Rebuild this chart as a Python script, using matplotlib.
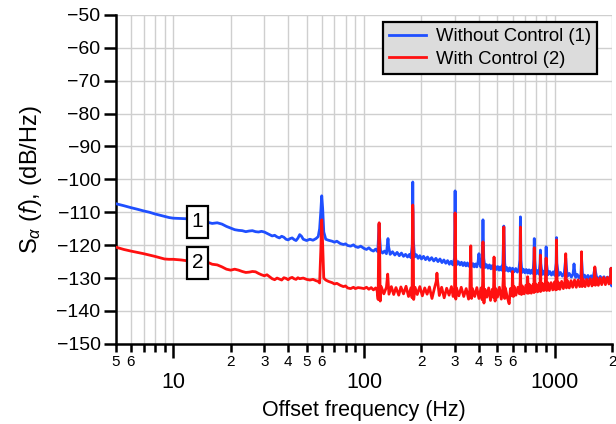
import numpy as np
import matplotlib
matplotlib.use("Agg")
import matplotlib.pyplot as plt
from matplotlib.patches import Rectangle
from matplotlib.ticker import FixedLocator, FuncFormatter

plt.rcParams['font.family'] = ['Liberation Sans', 'DejaVu Sans']
plt.rcParams['mathtext.fontset'] = 'custom'
plt.rcParams['mathtext.rm'] = 'Liberation Sans'
plt.rcParams['mathtext.it'] = 'Liberation Sans:italic'

# phase noise spectra, (frequency Hz, dB/Hz)
blue_pts = [
    (5, -107.4), (5.5, -108.0), (6, -108.6), (6.5, -109.1), (7, -109.6), (7.5, -110.0),
    (8, -110.5), (8.5, -110.9), (9, -111.3), (9.5, -111.6), (10, -111.8), (11, -111.9),
    (12, -112.0), (15, -113.0), (16, -113.4), (17, -113.2), (18, -113.6), (19, -114.3),
    (20, -114.8), (21, -115.3), (22, -115.5), (23, -115.6), (24, -115.9), (25, -115.7),
    (26, -115.6), (27, -115.9), (28, -116.0), (29, -115.8), (30, -116.0), (31, -116.4),
    (32, -116.8), (33, -117.2), (34, -117.0), (35, -117.5), (36, -117.8), (37, -117.3),
    (38, -117.6), (39, -118.2), (40, -118.4), (41, -118.0), (42, -117.8), (43, -118.3),
    (44, -118.6), (45, -117.9), (46, -116.8), (47, -117.3), (48, -118.2), (50, -118.6),
    (52, -118.2), (54, -118.5), (56, -118.0), (57.5, -117.4), (58.5, -115.0), (59.3, -110.0),
    (60, -105.0), (60.7, -109.0), (61.5, -116.0), (63, -118.2), (65, -118.5), (68, -118.8),
    (70, -119.1), (72, -118.8), (75, -119.5), (78, -119.8), (80, -119.6), (82, -120.1),
    (85, -120.3), (88, -119.9), (90, -120.4), (93, -120.7), (96, -120.3), (100, -121.0),
    (103, -121.3), (106, -120.8), (109, -121.5), (112, -121.8), (115, -121.2), (118, -122.0),
    (119.5, -116.0), (120, -113.5), (120.5, -117.0), (122, -121.6), (125, -122.4), (128, -121.8),
    (131, -122.6), (132.5, -120.0), (133.5, -118.0), (134.5, -120.5), (137, -122.8), (141, -122.0),
    (145, -123.0), (149, -122.2), (153, -123.2), (157, -122.4), (161, -123.4), (165, -122.8),
    (169, -123.6), (173, -122.8), (176, -123.8), (179, -120.0), (180, -100.8), (181, -118.0),
    (184, -123.6), (188, -122.9), (192, -124.0), (196, -123.2), (200, -124.2), (205, -123.4),
    (210, -124.4), (215, -123.6), (220, -124.6), (226, -123.8), (232, -124.8), (238, -124.0),
    (244, -125.0), (250, -124.2), (256, -125.3), (262, -124.5), (268, -125.5), (274, -124.7),
    (280, -125.8), (286, -124.9), (292, -126.0), (298, -124.0), (300, -103.5), (302, -124.0),
    (306, -125.9), (312, -125.0), (318, -126.0), (324, -125.2), (330, -126.2), (336, -125.3),
    (342, -126.3), (348, -125.4), (354, -126.4), (360, -125.5), (366, -126.5), (372, -125.6),
    (378, -126.6), (384, -125.7), (390, -126.6), (396, -125.0), (400, -122.6), (404, -125.4),
    (410, -126.7), (416, -124.0), (420, -112.3), (424, -124.0), (430, -126.8), (438, -125.9),
    (446, -127.0), (454, -126.0), (462, -127.2), (470, -126.2), (478, -127.3), (486, -126.4),
    (494, -127.4), (502, -126.5), (510, -127.6), (518, -126.6), (526, -127.6), (534, -125.5),
    (540, -114.2), (546, -125.5), (552, -127.7), (560, -126.8), (570, -127.9), (580, -126.9),
    (590, -128.0), (600, -127.0), (612, -128.1), (624, -127.1), (636, -128.2), (648, -127.2),
    (656, -124.5), (660, -111.4), (664, -124.5), (672, -128.3), (684, -127.3), (696, -128.4),
    (708, -127.4), (720, -128.5), (732, -127.5), (744, -128.6), (756, -127.6), (768, -128.6),
    (776, -124.5), (780, -118.0), (784, -124.5), (796, -128.7), (810, -127.7), (825, -128.8),
    (836, -125.5), (840, -121.5), (844, -125.5), (858, -128.9), (872, -127.9), (886, -129.0),
    (896, -125.5), (900, -120.5), (904, -125.5), (920, -129.0), (940, -128.0), (960, -129.1),
    (980, -128.1), (1000, -129.2), (1016, -125.5), (1020, -117.7), (1024, -125.5), (1045, -129.2),
    (1070, -128.3), (1095, -129.4), (1120, -128.5), (1140, -124.0), (1160, -129.5), (1190, -128.6),
    (1220, -129.7), (1245, -128.8), (1255, -127.0), (1260, -125.7), (1265, -127.0), (1285, -129.8),
    (1310, -128.9), (1340, -130.0), (1370, -129.0), (1380, -124.0), (1400, -130.1), (1430, -129.1),
    (1460, -130.2), (1490, -129.2), (1520, -130.3), (1550, -129.3), (1580, -130.4), (1620, -127.0),
    (1650, -129.4), (1690, -130.5), (1730, -129.5), (1770, -130.6), (1810, -129.6), (1850, -130.7),
    (1890, -129.7), (1930, -130.8), (1960, -130.0), (1970, -127.0), (1985, -132.4), (2000, -132.0),
]

red_pts = [
    (5, -120.6), (5.5, -121.3), (6, -121.8), (6.5, -122.2), (7, -122.6), (7.5, -123.0),
    (8, -123.4), (8.5, -123.8), (9, -124.2), (9.5, -124.3), (10, -124.3), (11, -124.5),
    (12, -124.8), (15, -125.1), (16, -125.8), (17, -126.0), (18, -126.6), (19, -127.3),
    (20, -127.6), (21, -127.3), (22, -127.6), (23, -128.0), (24, -128.3), (25, -128.2),
    (26, -128.0), (27, -128.1), (28, -128.6), (29, -129.0), (30, -129.3), (31, -129.0),
    (32, -129.6), (33, -130.2), (34, -130.5), (35, -130.0), (36, -130.3), (37, -130.6),
    (38, -129.9), (39, -130.1), (40, -130.5), (41, -130.0), (42, -129.8), (43, -130.2),
    (44, -130.4), (45, -129.9), (46, -130.2), (48, -130.0), (50, -130.4), (52, -130.6),
    (54, -130.4), (56, -130.8), (57.5, -131.0), (58.5, -131.5), (59.3, -122.0), (60, -112.3),
    (60.7, -120.0), (61.5, -130.0), (63, -130.6), (65, -131.0), (68, -131.4), (70, -131.8),
    (72, -131.6), (75, -132.2), (78, -132.6), (80, -132.4), (82, -133.0), (85, -133.2),
    (88, -132.8), (90, -133.2), (93, -132.9), (96, -133.0), (100, -133.2), (103, -132.8),
    (106, -133.4), (109, -132.9), (112, -133.6), (115, -133.0), (117, -133.8), (118.5, -136.5),
    (119.5, -114.0), (120, -113.2), (120.5, -116.0), (121.5, -137.0), (123, -132.6), (127, -134.8),
    (131, -132.8), (133, -128.8), (135, -134.9), (139, -132.6), (143, -135.0), (147, -132.9),
    (152, -135.2), (156, -132.7), (161, -134.8), (166, -132.5), (171, -135.6), (176, -133.0),
    (178.5, -136.0), (179.5, -108.0), (180, -107.8), (180.7, -110.0), (182, -136.5), (185, -132.8),
    (190, -135.0), (196, -132.6), (202, -135.4), (208, -133.0), (214, -134.9), (220, -132.7),
    (227, -136.2), (234, -133.0), (239, -131.0), (241, -128.5), (243, -131.0), (248, -135.3),
    (255, -132.8), (263, -136.0), (271, -133.1), (279, -135.2), (287, -132.6), (293, -135.6),
    (298, -134.0), (299.5, -112.0), (300, -110.2), (301, -115.0), (302.5, -136.4), (305, -133.0),
    (314, -135.4), (323, -132.8), (333, -135.6), (343, -133.2), (353, -136.4), (358.5, -133.4),
    (361, -124.0), (362.5, -120.2), (364, -126.0), (366, -136.2), (370, -133.2), (380, -135.6),
    (390, -132.9), (400, -136.2), (410, -133.0), (416, -136.6), (418.5, -130.0), (420, -119.0),
    (421.5, -128.0), (425, -137.6), (430, -133.4), (440, -135.8), (450, -133.0), (460, -136.8),
    (470, -133.4), (476, -135.8), (478.5, -130.0), (480, -123.6), (481.5, -130.0), (486, -137.0),
    (490, -133.2), (500, -135.8), (512, -132.8), (524, -136.4), (533, -133.4), (538.5, -128.0),
    (540, -114.5), (541.5, -128.0), (546, -136.2), (550, -133.0), (563, -135.8), (576, -137.8),
    (585, -133.2), (596, -135.4), (598.5, -131.0), (600, -128.0), (601.5, -131.0), (606, -135.6),
    (612, -132.6), (625, -135.2), (640, -132.8), (652, -134.8), (658, -131.0), (660, -114.5),
    (662, -131.0), (668, -135.0), (675, -132.4), (690, -134.8), (705, -132.2), (716, -134.6),
    (718, -131.0), (720, -129.6), (722, -131.0), (728, -134.6), (737, -132.0), (752, -134.6),
    (768, -132.0), (776, -134.4), (778, -127.0), (780, -120.8), (782, -127.0), (786, -134.2),
    (795, -131.8), (812, -134.2), (828, -131.6), (836, -134.0), (838, -127.0), (840, -123.0),
    (842, -127.0), (846, -134.0), (858, -131.6), (875, -133.8), (890, -131.6), (898, -127.0),
    (900, -123.9), (902, -127.0), (906, -133.8), (918, -131.4), (936, -133.8), (955, -131.4),
    (975, -133.6), (995, -131.2), (1010, -133.6), (1018, -125.0), (1020, -118.4), (1022, -125.0),
    (1030, -133.4), (1040, -131.2), (1062, -133.4), (1085, -131.0), (1108, -133.2), (1130, -131.0),
    (1138, -127.0), (1140, -122.6), (1142, -127.0), (1150, -133.0), (1165, -130.8), (1190, -133.0),
    (1215, -130.8), (1240, -132.8), (1268, -130.6), (1295, -132.8), (1322, -130.6), (1350, -132.6),
    (1372, -130.8), (1378, -127.0), (1380, -122.0), (1382, -127.0), (1390, -132.6), (1410, -130.4),
    (1440, -132.6), (1470, -130.4), (1500, -132.4), (1532, -130.2), (1565, -132.4), (1595, -130.2),
    (1612, -132.0), (1618, -128.0), (1620, -126.6), (1622, -128.0), (1630, -132.2), (1655, -130.0),
    (1690, -132.2), (1725, -130.0), (1760, -132.0), (1800, -129.8), (1840, -132.0), (1880, -129.8),
    (1920, -131.8), (1950, -129.6), (1965, -131.0), (1970, -127.0), (1975, -130.5), (1990, -131.6),
    (2000, -129.8),
]

series_labels = ["Without Control (1)", "With Control (2)"]
series_colors = ["#1f4fff", "#ff1010"]

bf, bd = np.array(blue_pts).T
rf, rd = np.array(red_pts).T

fig = plt.figure(figsize=(6.16, 4.24), dpi=100)
ax = fig.add_axes([0.188, 0.189, 0.806, 0.776])

ax.plot(bf, bd, color=series_colors[0], lw=2.0, label=series_labels[0], zorder=3)
ax.plot(rf, rd, color=series_colors[1], lw=2.0, label=series_labels[1], zorder=4)

ax.set_xscale('log')
ax.set_xlim(5, 2000)
ax.set_ylim(-150, -50)
ax.set_yticks(np.arange(-150, -49, 10))
ax.yaxis.set_major_formatter(FuncFormatter(lambda v, p: f"{int(v)}".replace('-', '\u2212')))

# x ticks: decades get big labels, 2..6 get the leading digit
ax.xaxis.set_major_locator(FixedLocator([10, 100, 1000]))
ax.xaxis.set_major_formatter(FuncFormatter(lambda v, p: f"{int(v)}"))
minor = [m * d for d in (1, 10, 100, 1000) for m in range(2, 10) if 5 <= m * d <= 2000]
ax.xaxis.set_minor_locator(FixedLocator(minor))
shown = {5, 6, 20, 30, 40, 50, 60, 200, 300, 400, 500, 600, 2000}
ax.xaxis.set_minor_formatter(FuncFormatter(
    lambda v, p: str(int(round(v)))[0] if int(round(v)) in shown else ""))

ax.tick_params(axis='x', which='major', length=10, width=1.8, labelsize=15.5, pad=10)
ax.tick_params(axis='x', which='minor', length=6, width=1.8, labelsize=11, pad=2)
ax.tick_params(axis='y', which='major', length=9, width=1.8, labelsize=14, pad=2)

ax.grid(True, which='both', axis='x', color='#cfcfcf', lw=1.0)
ax.grid(True, which='major', axis='y', color='#cfcfcf', lw=1.0)
ax.set_axisbelow(True)
for s in ('top', 'right'):
    ax.spines[s].set_visible(False)
for s in ('left', 'bottom'):
    ax.spines[s].set_linewidth(1.8)

ax.set_xlabel("Offset frequency (Hz)", fontsize=15.5, labelpad=5)
ax.set_ylabel(r"S$_{\alpha}$ $(f)$, (dB/Hz)", fontsize=17, labelpad=9)

# numbered tags on the two curves
for txt, y0, y1 in (("1", -117.8, -108.1), ("2", -130.2, -120.5)):
    ax.add_patch(Rectangle((11.8, y0), 15.2 - 11.8, y1 - y0, fc='white', ec='black',
                           lw=1.6, zorder=6))
    ax.text(13.4, (y0 + y1) / 2, txt, fontsize=15, ha='center', va='center', zorder=7)

leg = ax.legend(loc='upper right', bbox_to_anchor=(0.977, 0.99), fontsize=13.3,
                fancybox=False, framealpha=1, handlelength=2.0, handletextpad=0.5,
                borderpad=0.35, labelspacing=0.3, borderaxespad=0.2)
leg.get_frame().set_facecolor('#dcdcdc')
leg.get_frame().set_edgecolor('black')
leg.get_frame().set_linewidth(1.6)
leg.set_zorder(10)

fig.savefig("out.png", dpi=100)
